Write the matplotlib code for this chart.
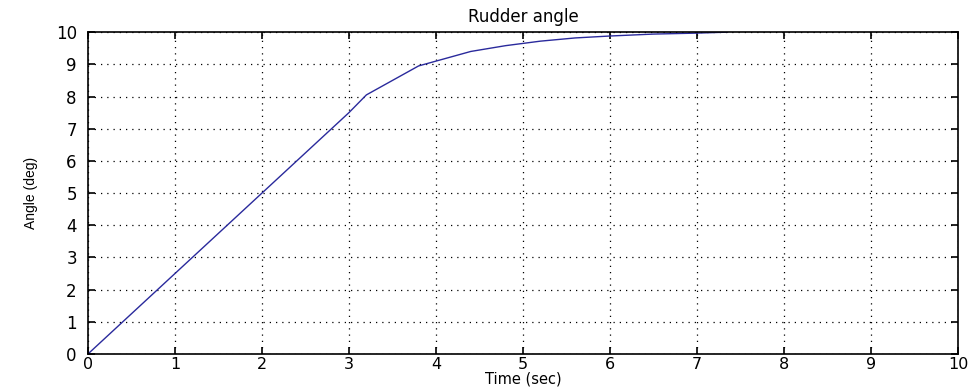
import matplotlib
matplotlib.use("Agg")
import matplotlib.pyplot as plt

# rudder angle response
time_sec = [0.0, 0.4, 0.8, 1.0, 1.6, 2.0, 2.6, 3.0, 3.2, 3.4, 3.6, 3.8, 4.0,
            4.4, 4.8, 5.2, 5.6, 6.0, 6.5, 7.0, 7.35]
angle_deg = [0.0, 1.0, 2.0, 2.5, 4.0, 5.0, 6.5, 7.5, 8.05, 8.35, 8.65, 8.95, 9.1,
             9.4, 9.58, 9.72, 9.82, 9.88, 9.94, 9.97, 10.0]
x_ticks = list(range(0, 11))
y_ticks = list(range(0, 11))

plt.rcParams['font.family'] = ['DejaVu Sans']

fig = plt.figure(figsize=(9.71, 3.92), dpi=100)
ax = fig.add_axes([0.0906, 0.097, 0.896, 0.821])
ax.plot(time_sec, angle_deg, color='#2a2a9c', linewidth=1.0)

ax.set_xlim(0, 10)
ax.set_ylim(0, 10)
ax.set_xticks(x_ticks)
ax.set_yticks(y_ticks)
ax.tick_params(direction='in', top=True, right=True, length=5, width=1.2,
               labelsize=12)
ax.tick_params(axis='x', labelsize=11.5, pad=2)
ax.tick_params(axis='y', pad=8)
ax.grid(True, color='black', linestyle=(0, (1, 4)), linewidth=0.9)
for spine in ax.spines.values():
    spine.set_linewidth(1.2)

ax.set_title('Rudder angle', fontsize=12, pad=7)
ax.set_xlabel('Time (sec)', fontsize=10.5, labelpad=0)
ax.set_ylabel('Angle (deg)', fontsize=10, labelpad=13,
              family=['Liberation Sans Narrow', 'Liberation Sans'])

fig.savefig('out.png', dpi=100)
